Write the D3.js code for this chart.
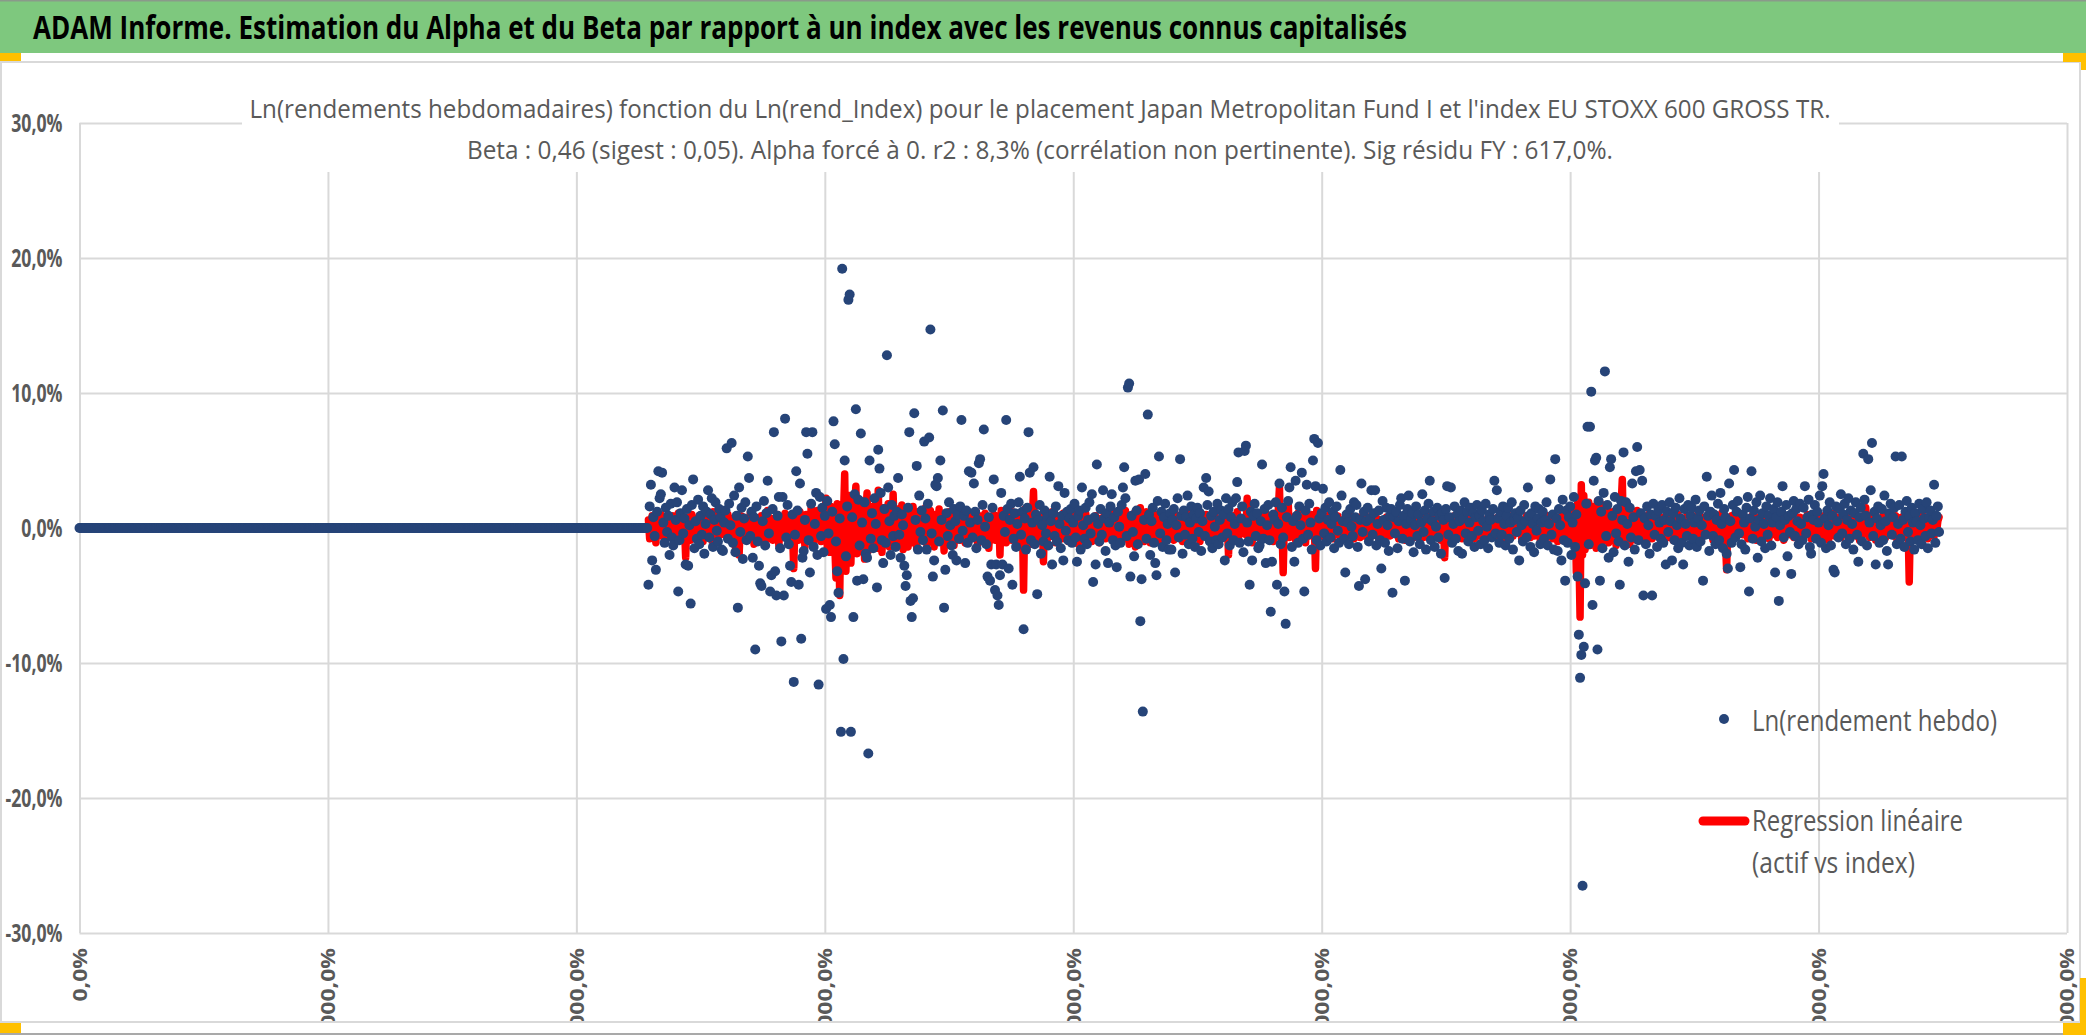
<!DOCTYPE html>
<html lang="fr">
<head>
<meta charset="utf-8">
<title>ADAM Informe - Alpha et Beta</title>
<script src="https://cdn.jsdelivr.net/npm/d3@7"></script>
<style>
  html, body { margin: 0; padding: 0; background: #fff; }
  svg { display: block; }
  text { font-family: "Open Sans", "Noto Sans", sans-serif; }
</style>
</head>
<body>
<div id="chart"></div>
<script>
// x is the week number (row of the sheet), y values are in %
var xTicks = [0, 200, 400, 600, 800, 1000, 1200, 1400, 1600];
var yTicks = [-30, -20, -10, 0, 10, 20, 30];

// weeks before the fund had a price : Ln(rendement) = 0
var flatWeeks = [
  0,0,0,0,0,0,0,0,0,0, 0,0,0,0,0,0,0,0,0,0, 0,0,0,0,0,0,0,0,0,0, 0,0,0,0,0,0,0,0,0,0, 0,0,0,0,0,0,0,0,0,0,
  0,0,0,0,0,0,0,0,0,0, 0,0,0,0,0,0,0,0,0,0, 0,0,0,0,0,0,0,0,0,0, 0,0,0,0,0,0,0,0,0,0, 0,0,0,0,0,0,0,0,0,0,
  0,0,0,0,0,0,0,0,0,0, 0,0,0,0,0,0,0,0,0,0, 0,0,0,0,0,0,0,0,0,0, 0,0,0,0,0,0,0,0,0,0, 0,0,0,0,0,0,0,0,0,0,
  0,0,0,0,0,0,0,0,0,0, 0,0,0,0,0,0,0,0,0,0, 0,0,0,0,0,0,0,0,0,0, 0,0,0,0,0,0,0,0,0,0, 0,0,0,0,0,0,0,0,0,0,
  0,0,0,0,0,0,0,0,0,0, 0,0,0,0,0,0,0,0,0,0, 0,0,0,0,0,0,0,0,0,0, 0,0,0,0,0,0,0,0,0,0, 0,0,0,0,0,0,0,0,0,0,
  0,0,0,0,0,0,0,0,0,0, 0,0,0,0,0,0,0,0,0,0, 0,0,0,0,0,0,0,0,0,0, 0,0,0,0,0,0,0,0,0,0, 0,0,0,0,0,0,0,0,0,0,
  0,0,0,0,0,0,0,0,0,0, 0,0,0,0,0,0,0,0,0,0, 0,0,0,0,0,0,0,0,0,0, 0,0,0,0,0,0,0,0,0,0, 0,0,0,0,0,0,0,0,0,0,
  0,0,0,0,0,0,0,0,0,0, 0,0,0,0,0,0,0,0,0,0, 0,0,0,0,0,0,0,0,0,0, 0,0,0,0,0,0,0,0,0,0, 0,0,0,0,0,0,0,0,0,0,
  0,0,0,0,0,0,0,0,0,0, 0,0,0,0,0,0,0,0,0,0, 0,0,0,0,0,0,0,0,0,0, 0,0,0,0,0,0,0,0,0,0, 0,0,0,0,0,0,0,0,0,0,
  0,0,0,0,0,0,0,0
];

// Ln(rendement hebdo) du fonds, %
var fundReturns = [
  -4.2,1.6,3.2,-2.4,0.8,-0.6,-3.1,1.2,4.2,2.2,2.5,4.1,0.4,-1.1,1.5,-0.3,0.9,-2.0,1.8,-0.7,
  -1.3,3.0,0.6,1.9,-4.7,-0.9,1.1,2.8,-0.4,0.7,-2.7,1.4,-2.8,0.2,-5.6,1.7,3.6,-1.5,0.5,-0.8,
  2.1,-1.2,0.9,-0.5,1.6,-1.9,0.3,1.2,2.8,-0.7,1.0,2.2,-1.4,0.6,1.9,-0.2,-1.0,1.4,0.8,-1.6,
  -1.7,0.4,1.3,5.9,-0.8,1.8,0.2,6.3,-1.1,2.4,-1.8,0.9,-5.9,3.0,-0.3,1.5,-2.3,0.7,1.9,-0.9,
  5.3,3.7,-0.6,1.2,-2.2,0.8,-9.0,1.6,-1.0,-2.8,-4.1,-4.3,0.5,2.0,-1.3,1.1,3.5,-0.4,-4.7,-3.5,
  1.4,7.1,-3.2,-5.0,0.9,2.3,-1.5,-8.4,2.3,-5.0,8.1,-0.7,1.7,-1.2,-2.8,-4.0,1.0,-11.4,-0.5,4.2,
  1.3,-4.2,3.3,-8.2,-2.2,-1.7,0.6,7.1,5.5,-0.9,-3.3,1.8,7.1,-1.4,0.3,2.6,-2.0,-11.6,2.3,-0.6,
  1.5,-1.8,0.9,-6.0,2.0,-0.4,-5.7,-6.6,1.2,7.9,6.2,-1.0,-3.2,-4.8,0.7,-15.1,19.2,-9.7,5.0,-2.1,
  1.6,16.9,17.3,-15.1,0.8,-6.6,2.5,8.8,-3.9,2.1,-1.3,7.0,0.4,-3.8,1.9,-1.9,-2.2,-16.7,5.0,-0.8,
  1.1,-1.5,2.2,0.3,-4.4,5.8,4.4,2.6,-0.9,-2.6,1.4,-1.1,12.8,3.0,0.5,-2.0,1.7,-0.6,0.9,-1.4,
  1.2,3.7,-0.5,-2.2,1.0,0.2,-2.8,-4.3,-3.5,1.5,7.1,-5.4,-6.6,-5.2,8.5,0.6,4.6,-1.6,2.4,-0.3,
  1.3,-0.9,6.4,0.7,-1.6,1.8,6.7,14.7,-0.4,-3.6,-2.4,3.2,3.1,3.7,-1.0,5.0,0.6,8.7,-5.9,-3.1,
  1.1,-0.6,1.9,0.2,-1.3,-2.0,1.4,0.5,-2.4,1.0,-0.8,1.6,8.0,-0.2,0.9,-2.6,1.3,-1.1,4.2,0.4,
  4.1,-0.7,3.3,1.2,-1.5,0.6,4.8,5.1,-0.9,1.7,7.3,0.1,-1.2,-3.6,0.8,-3.9,-2.7,1.5,3.6,-4.6,
  -2.7,-5.0,-5.7,-3.5,2.6,-2.7,0.9,-0.3,8.0,1.4,-3.0,0.6,1.8,-4.2,-0.8,1.1,-1.4,0.3,1.9,3.8,
  -0.5,1.2,-7.5,0.7,-1.6,1.5,7.1,4.1,-0.9,0.4,4.5,-1.2,1.0,-4.9,0.6,1.7,-1.9,0.2,-1.0,1.3,
  -0.4,0.8,-1.3,3.8,0.5,-2.7,1.1,-0.6,1.6,-1.0,3.1,0.3,-1.5,0.9,-2.4,2.6,-0.2,1.2,-0.9,0.7,
  1.4,-1.1,0.4,1.8,-0.7,-2.5,0.9,1.3,-1.6,3.0,0.2,-0.8,1.5,-1.2,0.6,1.9,-0.4,2.5,-4.0,0.8,
  -2.7,4.7,0.3,-1.0,1.4,-0.5,2.8,0.7,-1.7,1.1,-2.6,0.4,1.6,2.5,-0.9,0.8,-1.3,-2.9,1.2,0.1,
  -1.1,1.7,3.0,4.5,2.2,-0.6,10.4,10.7,-3.6,0.9,-0.3,-2.1,3.5,1.3,-1.2,3.6,-6.9,-3.8,-13.6,0.6,
  4.0,-0.8,8.4,1.0,-2.0,0.5,1.5,-1.1,-2.6,-3.5,2.0,5.3,-0.4,1.2,-1.4,0.8,1.8,-0.9,0.3,-1.6,
  1.1,-1.6,0.6,1.4,-3.3,0.2,2.2,-0.7,5.1,0.9,-1.9,1.3,-0.5,0.8,2.4,-1.2,0.4,1.6,-0.8,1.0,
  -1.4,0.7,1.5,-0.3,1.1,-1.7,0.5,3.0,-0.6,3.7,1.7,2.7,-1.0,0.9,-1.5,1.2,0.1,-0.9,1.8,-1.2,
  0.6,1.3,-0.7,1.0,-2.4,2.2,-0.4,1.4,-1.3,0.8,1.9,-0.9,0.3,2.2,3.4,5.6,-1.1,0.7,1.6,-1.8,
  5.7,6.1,0.4,-1.0,-4.2,1.2,-2.4,0.9,1.8,-0.6,1.1,-1.5,-1.3,0.5,4.7,-0.8,1.4,-2.6,0.2,1.7,
  -0.9,-6.2,-2.5,1.0,0.6,1.9,-4.2,0.3,3.3,-1.2,1.5,-0.7,-4.7,-7.1,0.8,2.0,3.0,4.5,-1.4,0.5,
  -2.5,3.5,0.9,-1.1,1.6,0.2,4.1,-0.8,-4.7,1.3,3.2,-0.5,1.8,0.4,-1.6,5.0,6.6,3.1,-0.9,6.3,
  0.7,-1.3,1.1,2.9,-0.4,1.5,-1.0,0.6,1.9,-0.7,0.3,1.2,-1.5,0.8,1.6,-0.2,-1.1,4.3,2.4,0.5,
  -0.8,-3.3,1.0,0.4,-1.2,1.4,0.1,-0.6,1.9,0.8,1.7,-1.4,-4.3,0.6,3.3,-0.3,1.2,-3.8,0.5,1.5,
  -1.0,0.7,2.8,-0.5,1.1,2.8,-1.3,0.3,1.3,-0.9,-3.0,2.0,0.6,-1.1,1.5,0.2,-1.7,0.9,1.4,-4.8,
  0.8,-0.4,1.2,-1.5,0.5,1.7,2.2,-0.8,0.9,-3.9,0.3,1.4,2.4,-1.0,0.6,1.1,-1.8,0.2,1.6,-0.6,
  1.0,-1.2,0.4,2.5,-0.3,1.3,-1.6,0.7,1.8,3.5,-0.9,0.5,1.2,-1.4,0.1,1.5,-0.7,0.9,-1.9,1.1,
  0.6,-3.7,1.4,3.1,-0.5,0.8,3.0,-1.1,0.3,1.6,-0.8,1.0,-1.7,0.5,1.3,-1.9,0.7,1.9,-0.4,1.2,
  -1.0,0.4,1.5,-0.6,1.1,-1.4,0.8,1.7,-0.2,0.9,-1.2,1.3,0.5,-0.9,1.8,0.1,-1.5,1.0,0.6,-0.7,
  1.4,3.5,-0.4,2.8,0.7,-1.1,1.2,-0.5,1.6,0.3,-1.3,0.9,1.5,-0.8,0.4,1.9,-1.6,0.6,1.1,-0.3,
  0.8,-2.4,1.3,0.2,-1.0,1.7,0.5,-0.7,3.0,0.9,-1.4,1.1,0.3,-1.8,1.6,-0.2,0.7,1.4,-1.2,0.4,
  1.2,-0.8,0.6,1.9,-1.3,0.3,3.6,-0.5,1.0,-1.6,5.1,0.7,-1.7,1.4,0.2,-2.4,2.1,-0.9,-3.9,1.3,
  -1.1,0.8,1.6,-2.0,0.4,2.3,-1.4,1.0,-3.6,-7.9,-11.1,-9.4,-26.5,-8.8,-4.1,1.8,7.5,-1.2,7.5,10.1,
  -5.7,3.5,5.0,5.2,-9.0,2.0,-3.9,1.2,-1.5,2.6,11.6,-0.6,1.7,-2.2,4.5,5.1,0.9,-1.8,2.3,-0.4,
  1.4,-1.0,-4.2,2.0,0.6,5.6,-1.3,1.9,0.3,-2.5,1.5,-0.7,3.3,0.8,-1.6,4.2,6.0,-0.9,4.3,1.1,
  3.5,-5.0,0.7,-1.2,1.6,0.2,-1.9,1.0,-5.0,1.8,-0.5,0.9,-1.4,1.3,0.4,-0.8,1.7,-1.1,0.6,-2.7,
  1.2,-0.3,1.9,0.5,-2.4,1.1,-0.9,1.5,0.2,-1.5,2.2,0.7,-1.1,-2.7,1.4,0.3,-0.6,1.7,-1.3,0.9,
  1.5,-0.8,0.4,2.1,-1.4,0.7,1.3,-1.0,0.2,-3.9,1.6,-0.5,3.8,0.9,-1.7,1.2,2.4,-0.6,1.0,-1.2,
  0.6,1.8,-0.9,2.6,0.3,-1.5,1.4,0.8,-1.9,-3.0,3.3,0.5,-1.1,1.7,4.3,-0.7,1.2,2.0,-0.4,-2.9,
  -1.2,1.0,0.4,-1.6,1.5,2.3,-4.7,0.7,4.2,-0.8,1.3,0.1,1.9,-2.2,0.6,2.4,-1.0,1.1,0.3,-1.5,
  1.6,-0.5,0.9,2.2,-1.3,0.4,1.4,-3.3,0.8,1.9,-5.4,0.2,1.2,3.1,-0.7,0.6,1.7,-2.1,0.9,-0.3,
  -3.4,1.1,2.0,-0.6,1.4,0.5,-1.2,1.8,0.3,-0.9,1.5,3.1,-0.4,0.8,2.1,-1.4,-1.9,1.0,0.6,1.7,
  -0.8,1.2,0.4,2.4,-1.1,3.1,4.0,0.7,-1.5,1.3,0.2,1.9,-1.3,0.9,-3.1,-3.3,1.6,0.5,-0.7,1.4,
  2.5,-0.4,1.0,1.8,-1.2,0.6,2.2,-0.8,1.3,0.3,-1.6,1.1,1.9,-0.5,-2.5,0.8,1.5,-1.0,5.5,2.1,
  0.9,-1.3,5.1,0.4,2.8,6.3,-0.6,1.2,-2.7,0.7,1.6,-1.1,0.2,1.4,-0.9,2.4,0.5,-1.7,-2.7,1.1,
  1.8,-0.5,0.8,1.5,5.3,-1.2,0.3,1.7,-0.8,5.3,0.6,-1.4,1.2,2.0,-0.3,0.9,-1.0,1.5,0.4,-1.6,
  1.1,0.5,-0.9,1.8,0.2,-1.2,1.4,0.7,-0.6,1.9,-1.5,0.8,1.3,-0.4,0.6,3.2,-1.1,0.9,1.6,-0.3
];

// regression linéaire : beta x Ln(rend_Index), same weeks as fundReturns, %
var regressionLine = [
  0.6,-0.8,0.3,0.9,-0.5,0.2,-1.1,0.7,0.4,-0.3,1.0,-0.6,0.5,-0.9,0.8,0.1,-0.4,0.6,-0.7,0.3,
  0.9,-0.2,0.5,-0.8,1.1,-0.4,0.3,0.7,-0.6,0.2,-2.2,0.8,-0.5,0.4,-0.9,1.0,0.1,-0.3,0.6,-0.7,
  0.4,0.9,-0.6,0.2,-1.0,0.7,0.3,-0.4,0.8,-0.2,0.5,-0.9,1.2,-0.3,0.6,0.1,-0.7,0.9,-0.5,0.3,
  -0.4,0.8,0.2,-0.6,1.0,-0.3,0.5,-0.9,0.7,0.1,-1.4,0.6,-0.2,-2.0,0.4,0.9,-0.5,0.3,-0.8,0.7,
  0.2,-0.6,1.1,-0.4,0.5,-1.2,0.8,0.3,-0.7,0.6,-0.3,0.9,-1.0,0.4,0.2,-0.5,1.3,-0.8,0.1,0.7,
  -0.9,0.5,0.3,-0.6,1.0,-1.3,0.4,0.8,-0.2,-0.7,1.1,0.2,-0.5,0.9,-1.1,0.6,-0.3,-3.0,0.7,-0.4,
  0.8,-0.9,1.2,0.3,-0.6,0.5,-1.4,1.0,-0.2,0.7,-0.8,1.5,0.1,-1.1,0.6,-0.4,1.3,-0.7,0.4,-1.0,
  1.4,-0.6,0.9,2.2,-1.5,0.7,-1.8,1.6,-0.4,1.1,-1.2,-3.7,1.8,0.5,-5.0,1.3,-2.1,0.8,4.0,-3.2,
  1.9,-1.6,2.4,-2.6,1.2,-0.8,1.7,3.1,-1.9,0.6,-1.3,2.0,-0.5,1.5,-2.3,0.9,2.6,-1.7,1.1,-0.6,
  1.6,-1.2,0.4,1.9,-1.5,2.8,-0.9,1.3,-1.8,0.7,1.5,-1.0,0.3,1.8,-1.4,0.6,-0.7,2.5,-1.1,0.9,
  -1.3,1.4,0.5,-0.9,1.7,-1.6,0.8,1.2,-0.6,-1.4,1.0,0.3,-1.1,1.6,-0.4,0.9,-1.5,1.2,0.2,-0.8,
  1.1,-0.7,0.4,1.5,-1.2,0.6,-0.3,1.3,-0.9,0.8,-1.4,1.0,0.2,-0.6,1.4,-1.0,0.5,0.9,-1.7,0.3,
  0.7,-1.0,1.2,-0.4,0.6,1.0,-1.3,0.3,-0.7,1.1,0.5,-0.9,0.8,-0.2,1.3,-1.1,0.4,0.9,-0.6,0.2,
  -0.8,1.0,0.3,-0.5,1.2,-1.2,0.6,0.9,-0.3,0.5,-1.0,1.1,-0.4,0.7,-1.5,0.2,0.8,-0.6,1.0,-0.9,
  0.5,-0.3,0.9,-2.0,1.3,-0.7,0.4,1.0,-1.1,0.6,-0.2,0.8,-0.9,1.2,0.3,-0.6,0.7,-1.0,0.4,0.9,
  -0.5,1.1,-4.6,1.4,-0.8,0.6,-0.3,0.9,-1.2,0.5,2.7,-0.7,0.8,-1.0,0.3,0.6,-0.4,1.0,-2.5,0.7,
  0.2,-0.9,1.0,0.4,-0.6,1.2,-0.3,0.7,-1.1,0.5,0.9,-0.4,0.3,-0.8,1.1,0.6,-0.5,0.2,-1.0,0.8,
  0.5,-0.7,0.3,1.0,-0.4,0.8,-1.2,0.6,0.2,-0.5,0.9,-0.8,1.1,0.4,-0.6,0.3,0.7,-1.0,0.5,-0.2,
  0.9,-0.6,0.4,-1.1,0.7,0.2,-0.4,1.0,-0.8,0.5,0.3,-0.7,1.2,-0.5,0.6,-0.9,0.4,0.8,-0.3,0.1,
  -0.6,1.0,0.5,-0.8,1.3,-0.4,0.7,-1.2,0.9,0.2,-0.5,1.1,-1.4,0.6,0.3,-0.9,1.5,-0.7,0.4,-1.0,
  0.8,1.2,-0.5,0.3,-1.1,0.9,-0.2,0.6,-0.8,1.0,0.4,-0.6,0.7,-1.3,0.5,0.2,-0.4,0.9,-0.7,0.3,
  -0.4,0.7,0.2,-0.9,1.1,-0.3,0.5,0.8,-0.6,0.4,-1.0,0.9,0.1,-0.5,0.6,-0.8,1.2,0.3,-0.4,0.7,
  0.5,-0.7,0.9,0.2,-1.0,0.6,-0.3,0.8,-0.5,1.0,0.3,-0.9,0.4,-0.2,0.7,-0.6,1.1,-0.4,0.5,0.2,
  -0.8,0.6,0.3,-0.5,1.0,-0.7,0.4,-2.0,0.8,0.2,-0.6,0.9,-0.3,0.5,1.2,-0.9,0.4,-0.4,0.7,0.1,
  0.6,-0.5,2.2,-0.8,0.4,0.9,-1.1,0.3,0.7,-0.6,1.0,-0.2,0.5,-0.9,0.8,0.2,-0.7,1.1,-0.3,0.4,
  -0.6,0.9,0.3,-1.0,0.7,0.2,-0.5,1.2,3.0,-0.8,0.4,-3.3,0.6,-0.4,0.9,2.0,-0.7,0.5,-0.2,0.8,
  0.3,-0.9,0.6,1.1,-0.5,0.2,0.8,-0.7,0.4,-1.1,0.9,0.1,-0.6,0.7,1.0,-0.4,0.5,-3.0,1.3,-0.6,
  0.4,-0.5,0.8,0.2,-0.7,0.6,-0.3,0.9,-0.6,0.3,0.5,-0.8,0.7,-0.2,0.4,0.9,-0.5,0.3,-0.9,0.6,
  -0.3,0.7,0.2,-0.6,0.5,0.9,-0.4,0.3,-0.8,0.6,0.1,-0.5,0.8,-0.7,0.4,0.2,-0.6,1.0,-0.3,0.5,
  0.2,-0.7,0.6,-0.3,0.9,-0.5,0.4,0.7,-0.8,0.3,-0.2,0.6,-0.9,0.5,0.8,-0.4,0.2,-0.6,0.7,-0.3,
  0.5,0.9,-0.4,0.2,-0.8,0.6,0.3,-0.5,0.7,-0.9,0.4,0.1,-0.6,0.8,-0.3,0.5,-0.7,0.9,0.2,-0.4,
  0.6,-0.5,0.3,0.8,-0.7,0.4,-0.2,0.9,-0.6,0.5,0.2,-0.8,0.7,-0.3,0.4,1.0,-0.5,0.3,-0.9,0.6,
  0.2,-2.2,0.8,-0.4,0.6,0.3,-0.7,0.5,-0.2,0.9,-0.6,0.4,0.7,-0.5,0.3,-0.8,0.6,0.2,-0.4,0.8,
  -0.5,0.4,0.7,-0.3,0.2,-0.8,0.6,0.3,-0.6,0.9,-0.4,0.5,0.1,-0.7,0.6,-0.2,0.8,-0.5,0.4,0.3,
  -0.6,0.7,0.2,-0.4,0.8,-0.7,0.5,0.3,-0.5,0.6,-0.9,0.4,0.7,-0.3,0.2,0.9,-0.6,0.4,-0.2,0.5,
  0.7,-0.4,0.3,-0.8,0.6,0.2,-0.5,0.9,-0.3,0.4,-0.7,0.8,0.1,-0.6,0.5,-0.4,0.7,0.3,-0.9,0.5,
  -0.3,0.6,0.4,-0.7,0.9,-0.5,0.2,0.7,-0.8,0.5,-0.2,0.8,-1.0,0.4,0.6,-0.6,1.1,-0.9,0.3,0.7,
  -0.8,1.0,-0.4,1.3,-1.1,0.6,1.5,-3.3,1.8,-1.4,-6.6,3.2,-2.0,2.4,-1.6,1.2,-0.7,1.9,-1.3,0.8,
  1.6,-1.0,0.5,-1.5,2.0,-0.6,1.3,-1.2,0.8,1.7,-0.9,0.4,1.4,-1.1,0.7,-0.5,1.2,-0.8,0.6,-1.3,
  1.1,-0.6,0.9,1.5,3.6,-1.0,0.4,1.2,-0.7,0.8,-1.2,0.5,1.0,-0.4,0.7,-0.9,1.3,0.2,-0.6,0.9,
  -0.5,0.8,0.3,-0.9,0.6,1.0,-0.4,0.5,-0.8,0.7,0.2,-0.6,0.9,-0.3,0.4,-0.7,0.8,0.1,-0.5,0.6,
  0.3,-0.7,0.8,-0.2,0.5,-0.9,0.6,0.4,-0.5,1.0,-0.3,0.7,-0.8,0.2,0.6,-0.4,0.9,-0.6,0.3,0.5,
  -0.6,0.9,0.2,-0.4,0.7,-0.8,0.5,0.3,-0.7,0.8,-0.2,0.6,-0.5,1.0,-0.3,0.4,0.7,-0.9,0.5,0.2,
  -0.5,0.8,-0.3,0.6,1.1,-0.6,0.4,-0.9,-3.1,0.7,0.3,-0.5,0.9,-0.2,0.6,-0.7,0.4,0.8,-0.4,0.2,
  0.6,-0.5,0.9,-0.3,0.4,-0.8,0.7,0.2,-0.6,1.0,-0.4,0.5,-0.9,0.3,0.8,-0.2,0.6,-0.7,0.4,0.9,
  -0.4,0.5,-0.8,0.7,0.2,-0.5,0.9,-0.3,0.6,-0.7,0.4,1.0,-0.6,0.3,-0.9,0.8,0.1,-0.4,0.7,-0.5,
  0.6,0.2,-0.7,0.9,-0.3,0.5,-0.6,0.8,0.3,-0.9,0.7,-0.2,0.4,1.0,-0.5,0.6,-0.8,0.3,0.5,-0.4,
  0.8,-0.6,0.4,-0.3,0.9,-0.7,0.5,0.2,-0.5,0.7,-0.9,0.6,0.3,-0.4,1.1,-0.6,0.4,0.8,-0.3,0.5,
  -0.7,0.6,0.3,-0.5,0.9,-0.2,0.7,-0.8,0.4,0.6,-0.4,1.0,-0.6,0.3,0.5,-0.9,0.8,0.2,-0.5,0.7,
  1.5,-0.4,0.6,-0.7,0.9,0.3,-0.5,0.8,-0.9,0.4,0.7,-0.3,0.5,-0.6,1.0,0.2,-0.7,0.6,-0.4,0.8,
  -0.5,0.7,0.3,-0.6,0.9,-0.8,0.4,0.6,-0.3,0.8,-0.5,1.0,0.2,-0.7,0.5,-4.0,0.9,-0.4,0.6,0.3,
  -0.6,0.8,0.4,-0.5,0.7,-0.2,0.9,-0.7,0.5,0.3,-0.8,0.6,-0.4,1.0,0.2,-0.6,0.7,-0.3,0.5,0.8
];

var titleText = "ADAM Informe. Estimation du Alpha et du Beta par rapport à un index avec les revenus connus capitalisés";
var subtitleLines = [
  "Ln(rendements hebdomadaires) fonction du Ln(rend_Index) pour le placement Japan Metropolitan Fund I et l'index EU STOXX 600 GROSS TR.",
  "Beta : 0,46 (sigest : 0,05). Alpha forcé à 0. r2 : 8,3% (corrélation non pertinente). Sig résidu FY : 617,0%."
];
var legendNames = ["Ln(rendement hebdo)", "Regression linéaire", "(actif vs index)"];

var w = 2086;
var h = 1035;
var navy = "#264478";
var red = "#ff0000";
var grey = "#595959";
var gridColor = "#d9d9d9";
var gold = "#ffc000";

function pct(v) { return v.toFixed(1).replace(".", ",") + "%"; }

var fundPoints = flatWeeks.concat(fundReturns).map(function(v, i) { return {x: i, y: v}; });
var fitPoints = regressionLine.map(function(v, i) { return {x: flatWeeks.length + i, y: v}; });

var x = d3.scaleLinear().domain([0, 1600]).range([79.5, 2067]);
var y = d3.scaleLinear().domain([-30, 30]).range([933, 123]);

var svg = d3.select("#chart")
  .append("svg")
  .attr("width", w)
  .attr("height", h);

svg.append("rect").attr("width", w).attr("height", h).attr("fill", "#fff");

// chart area frame
svg.append("rect")
  .attr("x", 1).attr("y", 62).attr("width", 2079).attr("height", 960)
  .attr("fill", "#fff").attr("stroke", gridColor).attr("stroke-width", 2);
svg.append("line")
  .attr("x1", 0).attr("x2", w).attr("y1", 1034).attr("y2", 1034)
  .attr("stroke", "#8c8c8c").attr("stroke-width", 1.5);

// green title band
svg.append("rect")
  .attr("x", 0).attr("y", 0).attr("width", w).attr("height", 53)
  .attr("fill", "#7ec87e");
svg.append("line")
  .attr("x1", 0).attr("x2", w).attr("y1", 0.75).attr("y2", 0.75)
  .attr("stroke", "#8a9a8a").attr("stroke-width", 1.5);
svg.append("text")
  .attr("x", 33).attr("y", 39)
  .attr("textLength", 1374).attr("lengthAdjust", "spacingAndGlyphs")
  .style("font-size", "32px").style("font-weight", "bold")
  .attr("fill", "#000")
  .text(titleText);

// small selection handles in the corners
var handles = [[0, 53, 21, 8], [2063, 53, 20, 9], [2081, 53, 5, 17], [0, 1023, 21, 10], [2080, 978, 6, 57], [2063, 1023, 23, 12]];
svg.selectAll("rect.handle")
  .data(handles)
  .join("rect")
  .attr("class", "handle")
  .attr("x", function(d) { return d[0]; })
  .attr("y", function(d) { return d[1]; })
  .attr("width", function(d) { return d[2]; })
  .attr("height", function(d) { return d[3]; })
  .attr("fill", gold);

// y grid + labels
var yAxis = d3.axisLeft(y)
  .tickValues(yTicks)
  .tickSize(-(x.range()[1] - x.range()[0]))
  .tickPadding(17)
  .tickFormat(pct);

var gy = svg.append("g")
  .attr("transform", "translate(" + x.range()[0] + ",0)")
  .call(yAxis);
gy.select(".domain").remove();
gy.selectAll("line").attr("stroke", gridColor).attr("stroke-width", 2);
gy.selectAll("text")
  .attr("fill", grey)
  .style("font-size", "25px")
  .style("font-weight", "bold")
  .style("font-family", "'Open Sans', 'Noto Sans', sans-serif");

// labels are narrow in the original, squeeze them to the same width
var sample = gy.selectAll("text").filter(function(d) { return d === -20; }).node();
var squeeze = 57 / sample.getComputedTextLength();
gy.selectAll("text").each(function() {
  var len = this.getComputedTextLength();
  d3.select(this).attr("textLength", len * squeeze).attr("lengthAdjust", "spacingAndGlyphs");
});

// x grid + rotated labels, cut by the bottom of the chart area
svg.append("clipPath").attr("id", "frameClip")
  .append("rect").attr("x", 0).attr("y", 62).attr("width", 2080).attr("height", 959);

var xAxis = d3.axisBottom(x)
  .tickValues(xTicks)
  .tickSize(-(y.range()[0] - y.range()[1]))
  .tickFormat(function(d) { return pct(d * 100); });

var gx = svg.append("g")
  .attr("clip-path", "url(#frameClip)")
  .append("g")
  .attr("transform", "translate(0," + y.range()[0] + ")")
  .call(xAxis);
gx.select(".domain").remove();
gx.selectAll("line").attr("stroke", gridColor).attr("stroke-width", 2);
gx.selectAll("text")
  .attr("transform", "rotate(-90) scale(1,0.82)")
  .attr("x", -15)
  .attr("y", 0)
  .attr("dy", "0.36em")
  .style("text-anchor", "end")
  .attr("fill", grey)
  .style("font-size", "23px")
  .style("font-weight", "bold")
  .style("font-family", "'Open Sans', 'Noto Sans', sans-serif");

// white box of the chart title, it hides the top of the grid
svg.append("rect")
  .attr("x", 242).attr("y", 70).attr("width", 1597).attr("height", 102)
  .attr("fill", "#fff");

var subWidths = [1581, 1146];
svg.selectAll("text.subtitle")
  .data(subtitleLines)
  .join("text")
  .attr("class", "subtitle")
  .attr("x", 1040)
  .attr("y", function(d, i) { return 118 + i * 41; })
  .attr("text-anchor", "middle")
  .attr("textLength", function(d, i) { return subWidths[i]; })
  .attr("lengthAdjust", "spacingAndGlyphs")
  .style("font-size", "26px")
  .attr("fill", grey)
  .text(function(d) { return d; });

// regression line
var line = d3.line()
  .x(function(d) { return x(d.x); })
  .y(function(d) { return y(d.y); });

svg.append("path")
  .datum(fitPoints)
  .attr("d", line)
  .attr("fill", "none")
  .attr("stroke", red)
  .attr("stroke-width", 7.5)
  .attr("stroke-linejoin", "round")
  .attr("stroke-linecap", "round");

// weekly log returns
svg.append("g")
  .selectAll("circle")
  .data(fundPoints)
  .join("circle")
  .attr("cx", function(d) { return x(d.x); })
  .attr("cy", function(d) { return y(d.y); })
  .attr("r", 5)
  .attr("fill", navy);

// legend
var legend = svg.append("g");
legend.append("circle")
  .attr("cx", 1724).attr("cy", 719).attr("r", 5)
  .attr("fill", navy);
legend.append("line")
  .attr("x1", 1703).attr("x2", 1745).attr("y1", 821).attr("y2", 821)
  .attr("stroke", red).attr("stroke-width", 9).attr("stroke-linecap", "round");

var legendRows = [
  {text: legendNames[0], y: 731, width: 245},
  {text: legendNames[1], y: 831, width: 211},
  {text: legendNames[2], y: 873, width: 163}
];
legend.selectAll("text")
  .data(legendRows)
  .join("text")
  .attr("x", 1752)
  .attr("y", function(d) { return d.y; })
  .attr("textLength", function(d) { return d.width; })
  .attr("lengthAdjust", "spacingAndGlyphs")
  .style("font-size", "30px")
  .attr("fill", grey)
  .text(function(d) { return d.text; });
</script>
</body>
</html>
